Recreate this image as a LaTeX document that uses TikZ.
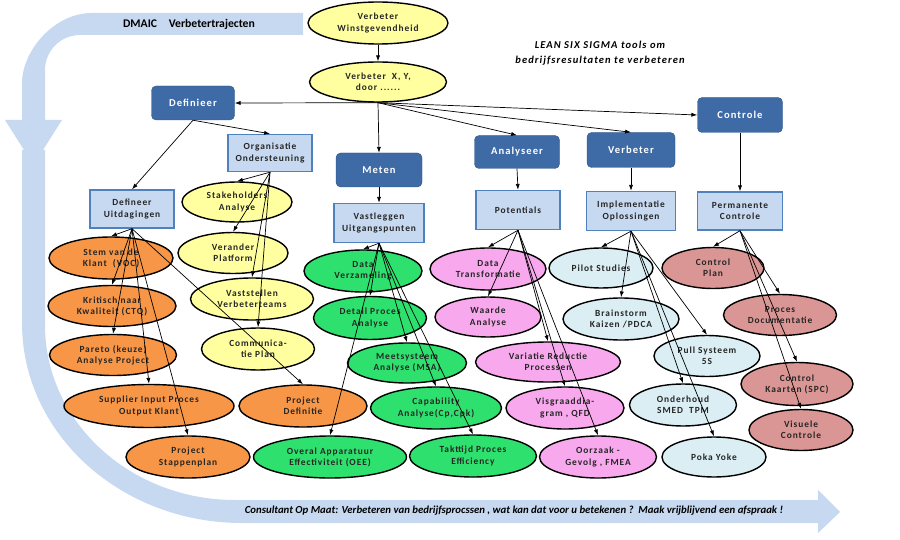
\documentclass[tikz,border=0pt]{standalone}
\usepackage{fontspec}
\setmainfont{Carlito}
\newfontfamily\spaced[LetterSpace=10]{Carlito}
\usetikzlibrary{shapes.geometric,arrows.meta}
\definecolor{bandblue}{RGB}{198,217,241}
\definecolor{phaseblue}{RGB}{62,106,165}
\definecolor{phaseedge}{RGB}{45,85,135}
\definecolor{stepblue}{RGB}{198,217,241}
\definecolor{stepedge}{RGB}{79,129,189}
\definecolor{geel}{RGB}{255,255,160}
\definecolor{oranje}{RGB}{247,150,70}
\definecolor{groen}{RGB}{46,224,110}
\definecolor{roze}{RGB}{248,168,236}
\definecolor{lichtblauw}{RGB}{218,238,243}
\definecolor{oudrood}{RGB}{218,150,148}
\begin{document}
\begin{tikzpicture}[x=0.03cm,y=-0.03cm,
  sz/.style 2 args={minimum width=#1*0.03cm,minimum height=#2*0.03cm},
  fase/.style={draw=phaseedge,fill=phaseblue,rounded corners=4pt,text=white,inner sep=0pt,
    font=\spaced\bfseries\fontsize{9}{10}\selectfont},
  stap/.style={draw=stepedge,line width=1.2pt,fill=stepblue,align=center,inner sep=0pt,
    text=black!85,font=\spaced\bfseries\fontsize{8}{9.5}\selectfont},
  tool/.style={draw,ellipse,line width=1.2pt,align=center,inner sep=0pt,
    text=black!85,font=\spaced\bfseries\fontsize{8}{9.5}\selectfont},
  pijl/.style={-{Latex[length=5pt,width=3.5pt]},line width=0.6pt}]
\useasboundingbox (0,0) rectangle (900,540);
% DMAIC band
\fill[bandblue] (303,13) -- (92,13) .. controls (53.3,13) and (22,51.7) .. (22,83)
  -- (22,120) -- (5,120) -- (33.5,165) -- (62,120) -- (45,120) -- (45,70)
  .. controls (45,50.7) and (60.7,35) .. (80,35) -- (303,35) -- cycle;
\fill[bandblue] (22,150) -- (22,323) .. controls (22,433.5) and (120.5,523) .. (242,523)
  -- (818,523) -- (818,533) -- (840,512) -- (818,490) -- (818,500) -- (235,500)
  .. controls (130.1,500) and (45,421.7) .. (45,325) -- (45,150) -- cycle;
\node[font=\bfseries\fontsize{10}{12}\selectfont] (dmaic) at (189,24) {DMAIC\quad Verbetertrajecten};
\node[align=center,font=\spaced\bfseries\itshape\fontsize{9}{13}\selectfont] (lean) at (600,53)
  {LEAN SIX SIGMA tools om\\bedrijfsresultaten te verbeteren};
\node[font=\bfseries\itshape\fontsize{9.2}{11}\selectfont] (slogan) at (514,511)
  {Consultant Op Maat: Verbeteren van bedrijfsprocssen , wat kan dat voor u betekenen ?~~Maak vrijblijvend een afspraak !};
% doelen
\node[tool,fill=geel,sz={140}{42}] (winst) at (378,23) {Verbeter\\Winstgevendheid};
\node[tool,fill=geel,sz={137}{40}] (xy) at (378,82) {Verbeter~~X, Y,\\door ......};
% fasen
\node[fase,sz={83}{34}] (def) at (193,103) {Definieer};
\node[fase,sz={86}{34}] (met) at (379,170) {Meten};
\node[fase,sz={85}{33}] (ana) at (517,152) {Analyseer};
\node[fase,sz={88}{35}] (verb) at (631,150) {Verbeter};
\node[fase,sz={85}{35}] (ctrl) at (740,115) {Controle};
% stappen
\node[stap,sz={84}{37}] (org) at (270,153) {Organisatie\\Ondersteuning};
\node[stap,sz={84}{38}] (defu) at (132,209) {Defineer\\Uitdagingen};
\node[stap,sz={90}{39}] (vast) at (379,223) {Vastleggen\\Uitgangspunten};
\node[stap,sz={84}{39}] (pot) at (518,210) {Potentials};
\node[stap,sz={89}{39}] (impl) at (631,211) {Implementatie\\Oplossingen};
\node[stap,sz={85}{38}] (perm) at (740,211) {Permanente\\Controle};
% organisatie
\node[tool,fill=geel,sz={110}{40}] (stake) at (237,202) {Stakeholders\\Analyse};
\node[tool,fill=geel,sz={110}{41}] (verander) at (233,253) {Verander\\Platform};
\node[tool,fill=geel,sz={123}{42}] (vastst) at (252,299) {Vaststellen\\Verbeterteams};
\node[tool,fill=geel,sz={113}{42}] (commu) at (258,349) {Communica-\\tie Plan};
% definieer
\node[tool,fill=oranje,sz={124}{42}] (stem) at (111,258) {Stem van de\\Klant~~(VOC)};
\node[tool,fill=oranje,sz={128}{41}] (ctq) at (112,306) {Kritisch naar\\Kwaliteit (CTQ)};
\node[tool,fill=oranje,sz={127}{41}] (pareto) at (113,355) {Pareto (keuze)\\Analyse Project};
\node[tool,fill=oranje,sz={170}{43}] (sipoc) at (149,406) {Supplier Input Proces\\Output Klant};
\node[tool,fill=oranje,sz={124}{42}] (stappen) at (188,457) {Project\\Stappenplan};
\node[tool,fill=oranje,sz={128}{42}] (pdef) at (303,406) {Project\\Definitie};
% meten
\node[tool,fill=groen,sz={118}{42}] (dataverz) at (363,271) {Data\\Verzameling};
\node[tool,fill=groen,sz={113}{43}] (detail) at (370,318) {Detail Proces\\Analyse};
\node[tool,fill=groen,sz={119}{40}] (msa) at (407,363) {Meetsysteem\\Analyse (MSA)};
\node[tool,fill=groen,sz={131}{42}] (capab) at (436,408) {Capability\\Analyse(Cp,Cpk)};
\node[tool,fill=groen,sz={153}{42}] (oee) at (330,457) {Overal Apparatuur\\Effectiviteit (OEE)};
\node[tool,fill=groen,sz={127}{42}] (takt) at (473,456) {Takttijd Proces\\Efficiency};
% analyseer
\node[tool,fill=roze,sz={116}{42}] (datatr) at (488,269) {Data\\Transformatie};
\node[tool,fill=roze,sz={106}{40}] (waarde) at (488,317) {Waarde\\Analyse};
\node[tool,fill=roze,sz={145}{40}] (variatie) at (548,362) {Variatie Reductie\\Processen};
\node[tool,fill=roze,sz={118}{42}] (visgr) at (565,408) {Visgraaddia-\\gram , QFD};
\node[tool,fill=roze,sz={117}{42}] (fmea) at (598,457) {Oorzaak -\\Gevolg , FMEA};
% verbeter
\node[tool,fill=lichtblauw,sz={104}{40}] (pilot) at (601,268) {Pilot Studies};
\node[tool,fill=lichtblauw,sz={116}{42}] (brain) at (621,319) {Brainstorm\\Kaizen /PDCA};
\node[tool,fill=lichtblauw,sz={106}{41}] (pull) at (707,356) {Pull Systeem\\5S};
\node[tool,fill=lichtblauw,sz={107}{42}] (smed) at (683,405) {Onderhoud\\SMED~~TPM};
\node[tool,fill=lichtblauw,sz={104}{40}] (poka) at (714,457) {Poka Yoke};
% controle
\node[tool,fill=oudrood,sz={102}{41}] (cplan) at (713,268) {Control\\Plan};
\node[tool,fill=oudrood,sz={113}{41}] (procdoc) at (780,315) {Proces\\Documentatie};
\node[tool,fill=oudrood,sz={112}{43}] (spc) at (797,384) {Control\\Kaarten (SPC)};
\node[tool,fill=oudrood,sz={104}{41}] (visu) at (801,430) {Visuele\\Controle};
% pijlen
\draw[pijl] (winst.south) -- (xy.north);
\draw[pijl] (xy.south) -- (def.east);
\draw[pijl] (xy.south) -- (met.north);
\draw[pijl] (xy.south) -- (ana.north);
\draw[pijl] (xy.south) -- (verb.north);
\draw[pijl] (xy.south) -- (ctrl.west);
\draw[pijl] (def.south) -- (org.north);
\draw[pijl] (def.south) -- (defu.north);
\draw[pijl] (met.south) -- (vast.north);
\draw[pijl] (ana.south) -- (pot.north);
\draw[pijl] (verb.south) -- (impl.north);
\draw[pijl] (ctrl.south) -- (perm.north);
\foreach \n in {stake,verander,vastst,commu}
  \draw[pijl] (org.south) -- (\n.north);
\foreach \n in {stem,ctq,pareto,sipoc,stappen,pdef}
  \draw[pijl] (defu.south) -- (\n.north);
\foreach \n in {dataverz,detail,msa,capab,oee,takt}
  \draw[pijl] (vast.south) -- (\n.north);
\foreach \n in {datatr,waarde,variatie,visgr,fmea}
  \draw[pijl] (pot.south) -- (\n.north);
\foreach \n in {pilot,brain,pull,smed,poka}
  \draw[pijl] (impl.south) -- (\n.north);
\foreach \n in {cplan,procdoc,spc,visu}
  \draw[pijl] (perm.south) -- (\n.north);
\end{tikzpicture}
\end{document}
